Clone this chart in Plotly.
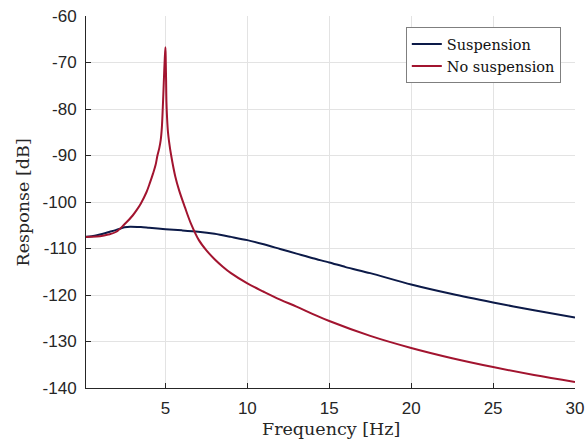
import plotly.graph_objects as go

# Frequency [Hz] and responses [dB]
freq_susp = [0.15, 0.5, 1.0, 1.5, 2.0, 2.5, 2.85, 3.5, 4.0, 5.0, 6.0, 7.0, 8.0, 9.0,
             10, 11, 12, 13, 14, 15, 16, 17.5, 20, 22.5, 25, 27.5, 30]
resp_susp = [-107.5, -107.35, -107.0, -106.5, -106.0, -105.45, -105.3, -105.4, -105.55,
             -105.85, -106.1, -106.4, -106.85, -107.5, -108.2, -109.1, -110.1, -111.1,
             -112.1, -113.0, -114.0, -115.3, -117.75, -119.8, -121.6, -123.3, -124.85]

freq_nosusp = [0.15, 0.5, 1.0, 1.5, 2.0, 2.5, 3.0, 3.25, 3.5, 3.84, 4.05, 4.24, 4.4,
               4.51, 4.63, 4.71, 4.78, 4.84, 4.88, 4.92, 4.96, 5.0, 5.02, 5.04, 5.06,
               5.1, 5.15, 5.22, 5.35, 5.6, 5.83, 6.18, 6.55, 7.04, 7.5, 8.0, 8.5, 9.0,
               10, 11, 12, 13, 14, 15, 17.5, 20, 22.5, 25, 27.5, 30]
resp_nosusp = [-107.5, -107.48, -107.35, -107.0, -106.4, -104.8, -102.9, -101.7, -100.3,
               -97.9, -95.9, -93.9, -92.0, -90.0, -88.3, -86.7, -84.0, -79.5, -76.0,
               -72.3, -69.0, -66.7, -70.0, -74.0, -78.5, -82.0, -84.8, -87.0, -90.0,
               -94.5, -97.45, -101.05, -104.6, -108.2, -110.4, -112.3, -113.9, -115.3,
               -117.5, -119.3, -121.0, -122.5, -124.1, -125.6, -128.8, -131.4, -133.6,
               -135.5, -137.2, -138.7]

x_ticks = [5, 10, 15, 20, 25, 30]
x_ticklabels = ["5", "10", "15", "20", "25", "30"]
y_ticks = [-140, -130, -120, -110, -100, -90, -80, -70, -60]
y_ticklabels = ["-140", "-130", "-120", "-110", "-100", "-90", "-80", "-70", "-60"]

serif = "DejaVu Serif, Liberation Serif, serif"
sans = "Liberation Sans, Arial, sans-serif"

fig = go.Figure()
fig.add_trace(go.Scatter(x=freq_susp, y=resp_susp, mode="lines", name="Suspension",
                         line=dict(color="#0c1a48", width=2, shape="spline", smoothing=0.8)))
fig.add_trace(go.Scatter(x=freq_nosusp, y=resp_nosusp, mode="lines", name="No suspension",
                         line=dict(color="#a2142f", width=2, shape="spline", smoothing=1.0)))

axis_common = dict(showgrid=True, gridcolor="#e3e3e3", gridwidth=1,
                   showline=True, linecolor="#262626", linewidth=1, mirror=False,
                   ticks="inside", ticklen=5, tickcolor="#262626",
                   tickfont=dict(family=sans, size=17, color="#262626"),
                   zeroline=False, automargin=False)

fig.update_layout(
    width=588, height=440,
    margin=dict(l=86, r=13, t=16, b=52, autoexpand=False),
    paper_bgcolor="white", plot_bgcolor="white",
    showlegend=True,
    legend=dict(x=0.654, y=0.97, xanchor="left", yanchor="top",
                bgcolor="white", bordercolor="#7f7f7f", borderwidth=1,
                font=dict(family=serif, size=14.5, color="#111111"),
                tracegroupgap=0, itemwidth=30),
    xaxis=dict(range=[0.15, 30], tickvals=x_ticks, ticktext=x_ticklabels,
               ticklabelstandoff=5, **axis_common),
    yaxis=dict(range=[-140, -60], tickvals=y_ticks, ticktext=y_ticklabels,
               ticklabelstandoff=5, **axis_common),
    annotations=[
        dict(text="Frequency [Hz]", xref="paper", yref="paper", x=0.5, y=-0.11,
             xanchor="center", yanchor="middle", showarrow=False,
             font=dict(family=serif, size=17.5, color="#262626")),
        dict(text="Response [dB]", xref="paper", yref="paper", x=-0.128, y=0.5,
             xanchor="center", yanchor="middle", showarrow=False, textangle=-90,
             font=dict(family=serif, size=17.5, color="#262626")),
    ],
)

fig.write_html("out.html")
